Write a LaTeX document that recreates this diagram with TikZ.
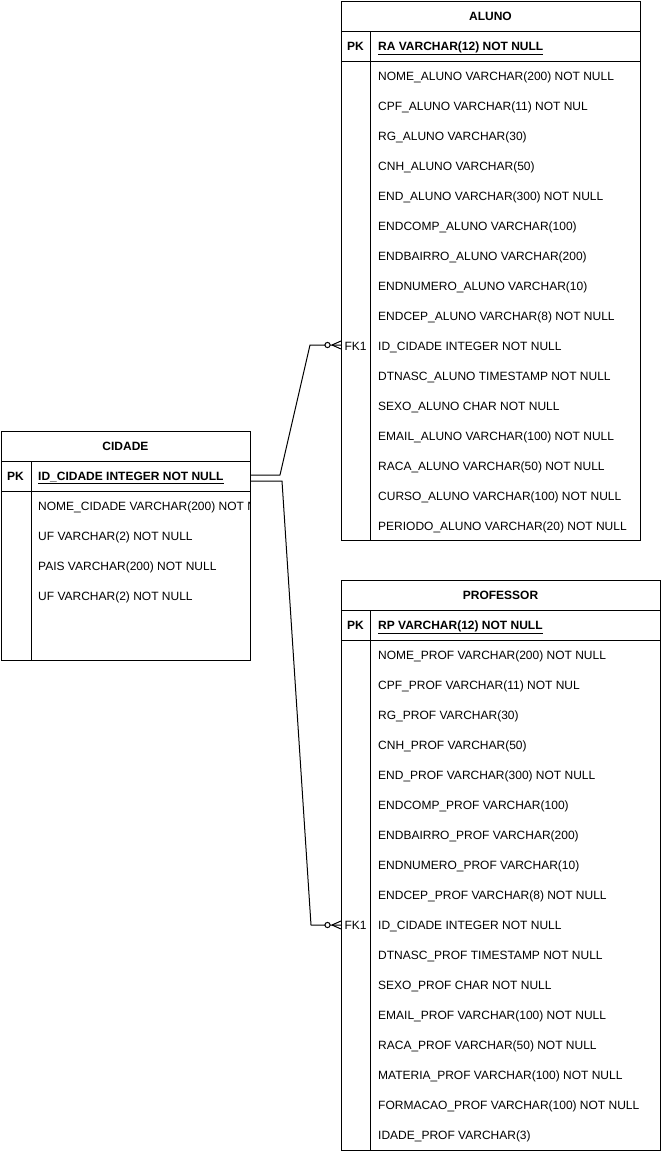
\documentclass[tikz,border=0pt]{standalone}
\usepackage{fontspec}
\setmainfont{Liberation Sans}
\begin{document}
\begin{tikzpicture}[x=1pt,y=-1pt,
  tbl/.style={draw=black,line width=1pt,fill=white,inner sep=0pt,anchor=north west},
  hdr/.style={font=\fontsize{12}{14}\selectfont\bfseries,inner sep=0pt,text height=8.6pt,text depth=0pt},
  keyl/.style={font=\fontsize{12}{14}\selectfont,inner sep=0pt,text height=8.6pt,text depth=0pt},
  rowt/.style={font=\fontsize{12}{14}\selectfont,inner sep=0pt,anchor=west,text height=8.6pt,text depth=0pt},
  ln/.style={line width=1pt,draw=black},
  conn/.style={line width=1pt,draw=black,line join=round}]
\useasboundingbox (0,0) rectangle (661,1151);
\fill[white] (0,0) rectangle (661,1151);

% ---------- ALUNO ----------
\node[tbl,minimum width=299pt,minimum height=539pt] (aluno) at (341,1) {};
\draw[ln] (341,31) -- (640,31);
\draw[ln] (341,61) -- (640,61);
\draw[ln] (370,31) -- (370,540);
\node[hdr] (alunoh) at (490.5,16) {ALUNO};
\node[keyl,font=\fontsize{12}{14}\selectfont\bfseries] (alunopk) at (355.5,46) {PK};
\node[rowt,font=\fontsize{12}{14}\selectfont\bfseries] (alunopkt) at (378,46) {\underline{RA VARCHAR(12) NOT NULL}};
\foreach \t [count=\i] in {NOME\_ALUNO VARCHAR(200) NOT NULL,CPF\_ALUNO VARCHAR(11) NOT NUL,RG\_ALUNO VARCHAR(30),CNH\_ALUNO VARCHAR(50),END\_ALUNO VARCHAR(300) NOT NULL,ENDCOMP\_ALUNO VARCHAR(100),ENDBAIRRO\_ALUNO VARCHAR(200),ENDNUMERO\_ALUNO VARCHAR(10),ENDCEP\_ALUNO VARCHAR(8) NOT NULL,ID\_CIDADE INTEGER NOT NULL,DTNASC\_ALUNO TIMESTAMP NOT NULL,SEXO\_ALUNO CHAR NOT NULL,EMAIL\_ALUNO VARCHAR(100) NOT NULL,RACA\_ALUNO VARCHAR(50) NOT NULL,CURSO\_ALUNO VARCHAR(100) NOT NULL,PERIODO\_ALUNO VARCHAR(20) NOT NULL}
  \node[rowt] (ar\i) at (378,46+30*\i) {\t};
\node[keyl] (alunofk) at (355.5,346) {FK1};

% ---------- PROFESSOR ----------
\node[tbl,minimum width=319pt,minimum height=570pt] (prof) at (341,580) {};
\draw[ln] (341,610) -- (660,610);
\draw[ln] (341,640) -- (660,640);
\draw[ln] (370,610) -- (370,1150);
\node[hdr] (profh) at (500.5,595) {PROFESSOR};
\node[keyl,font=\fontsize{12}{14}\selectfont\bfseries] (profpk) at (355.5,625) {PK};
\node[rowt,font=\fontsize{12}{14}\selectfont\bfseries] (profpkt) at (378,625) {\underline{RP VARCHAR(12) NOT NULL}};
\foreach \t [count=\i] in {NOME\_PROF VARCHAR(200) NOT NULL,CPF\_PROF VARCHAR(11) NOT NUL,RG\_PROF VARCHAR(30),CNH\_PROF VARCHAR(50),END\_PROF VARCHAR(300) NOT NULL,ENDCOMP\_PROF VARCHAR(100),ENDBAIRRO\_PROF VARCHAR(200),ENDNUMERO\_PROF VARCHAR(10),ENDCEP\_PROF VARCHAR(8) NOT NULL,ID\_CIDADE INTEGER NOT NULL,DTNASC\_PROF TIMESTAMP NOT NULL,SEXO\_PROF CHAR NOT NULL,EMAIL\_PROF VARCHAR(100) NOT NULL,RACA\_PROF VARCHAR(50) NOT NULL,MATERIA\_PROF VARCHAR(100) NOT NULL,FORMACAO\_PROF VARCHAR(100) NOT NULL,IDADE\_PROF VARCHAR(3)}
  \node[rowt] (pr\i) at (378,625+30*\i) {\t};
\node[keyl] (proffk) at (355.5,925) {FK1};

% ---------- CIDADE ----------
\node[tbl,minimum width=249pt,minimum height=229pt] (cidade) at (1,431) {};
\draw[ln] (1,461) -- (250,461);
\draw[ln] (1,491) -- (250,491);
\draw[ln] (31,461) -- (31,660);
\node[hdr] (cidadeh) at (125.5,446) {CIDADE};
\node[keyl,font=\fontsize{12}{14}\selectfont\bfseries] (cidadepk) at (15.5,476) {PK};
\node[rowt,font=\fontsize{12}{14}\selectfont\bfseries] (cidadepkt) at (38,476) {\underline{ID\_CIDADE INTEGER NOT NULL}};
\begin{scope}
\clip (31,491) rectangle (250,660);
\foreach \t [count=\i] in {NOME\_CIDADE VARCHAR(200) NOT NULL,UF VARCHAR(2) NOT NULL,PAIS VARCHAR(200) NOT NULL,UF VARCHAR(2) NOT NULL}
  \node[rowt] (cr\i) at (38,476+30*\i) {\t};
\end{scope}

% ---------- connectors ----------
\coordinate (s1) at (250,475);
\coordinate (e1) at (341,345);
\coordinate (s2) at (250,481);
\coordinate (e2) at (341,925);
\draw[conn] (s1) -- (280,475) -- (310,345) -- (e1);
\draw[conn] (s2) -- (282,481) -- (311,925) -- (e2);
\foreach \e in {e1,e2}{
  \draw[line width=1pt,fill=white] ([xshift=-13.5pt]\e) circle (2.6pt);
  \draw[line width=1pt] ([xshift=-9pt]\e) -- ([yshift=-4pt]\e);
  \draw[line width=1pt] ([xshift=-9pt]\e) -- ([yshift=4pt]\e);
}
\end{tikzpicture}
\end{document}
